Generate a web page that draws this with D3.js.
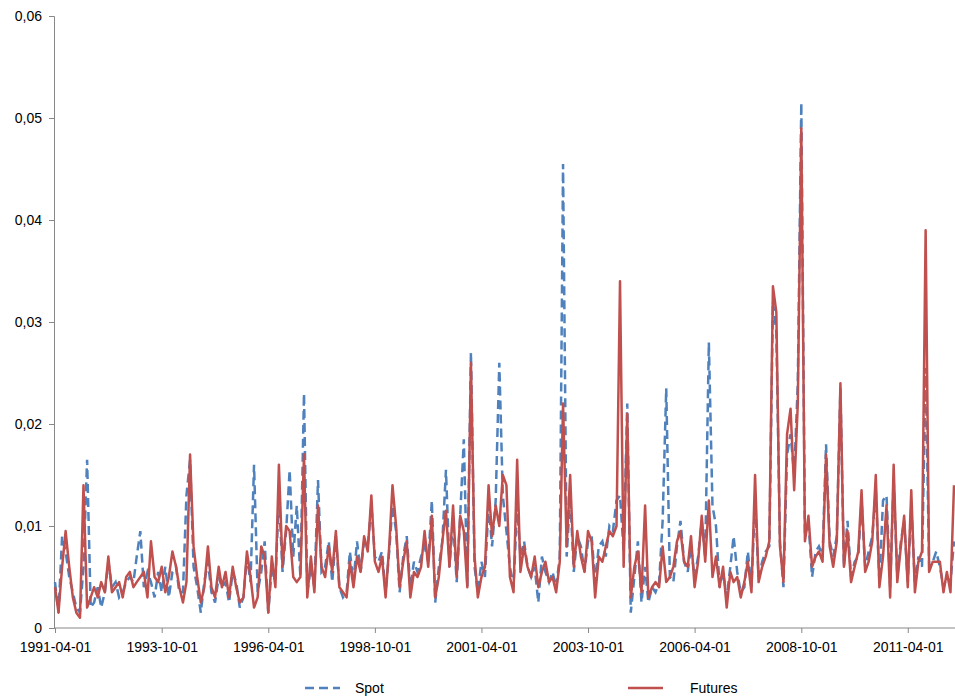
<!DOCTYPE html>
<html>
<head>
<meta charset="utf-8">
<title>Spot vs Futures</title>
<script src="https://cdn.jsdelivr.net/npm/d3@7"></script>
<style>
	body { margin:0; background:#fff; }
	text { font-family:"Liberation Sans Narrow","Liberation Sans",Arial,sans-serif; font-size:14px; fill:#000; }
</style>
</head>
<body>
<svg id="chart" width="955" height="698"></svg>
<script>
// monthly values starting 1991-04-01
var futures = [
	0.004,0.0015,0.006,0.0095,0.006,0.003,0.0015,0.001,0.014,
	0.002,0.003,0.004,0.003,0.0045,0.0035,0.007,0.0035,0.004,0.0045,0.003,0.005,
	0.0055,0.004,0.0045,0.005,0.0055,0.003,0.0085,0.005,0.0045,0.006,0.0035,0.005,
	0.0075,0.006,0.004,0.0025,0.0045,0.017,0.008,0.005,0.0025,0.004,0.008,0.004,
	0.003,0.006,0.004,0.0055,0.003,0.006,0.004,0.0025,0.003,0.0075,0.005,0.002,
	0.003,0.008,0.007,0.0015,0.007,0.004,0.016,0.006,0.01,0.0095,0.005,0.0045,
	0.005,0.017,0.003,0.007,0.0035,0.012,0.006,0.005,0.008,0.0055,0.0095,0.004,
	0.0035,0.003,0.0065,0.004,0.007,0.0055,0.009,0.0075,0.013,0.0065,0.0055,0.007,
	0.003,0.008,0.014,0.01,0.004,0.0065,0.0085,0.003,0.0055,0.005,0.006,0.0095,
	0.006,0.011,0.003,0.005,0.0085,0.0115,0.006,0.012,0.005,0.011,0.0095,0.004,
	0.026,0.007,0.003,0.005,0.006,0.014,0.009,0.012,0.01,0.015,0.014,0.005,
	0.0035,0.0165,0.0055,0.008,0.006,0.005,0.007,0.004,0.0055,0.0065,0.0045,0.005,
	0.0035,0.0065,0.022,0.008,0.015,0.006,0.0095,0.007,0.0055,0.0095,0.0085,0.003,
	0.007,0.0065,0.008,0.0095,0.009,0.01,0.034,0.006,0.021,0.003,0.006,0.0075,
	0.0035,0.012,0.003,0.004,0.0045,0.004,0.008,0.0045,0.005,0.006,0.0085,0.0095,
	0.0065,0.006,0.009,0.004,0.0065,0.011,0.0065,0.0125,0.005,0.007,0.004,0.006,
	0.002,0.0055,0.0045,0.005,0.003,0.0045,0.0065,0.0035,0.015,0.0045,0.006,0.007,
	0.0085,0.0335,0.031,0.008,0.0045,0.019,0.0215,0.0135,0.022,0.049,0.0085,0.011,
	0.006,0.007,0.0075,0.0065,0.017,0.008,0.006,0.0085,0.024,0.006,0.0095,0.0045,
	0.006,0.0075,0.0135,0.0055,0.0065,0.0085,0.015,0.004,0.007,0.012,0.003,0.016,
	0.0045,0.008,0.011,0.004,0.0135,0.0035,0.0065,0.0075,0.039,0.0055,0.0065,0.0065,
	0.0065,0.0035,0.0055,0.0035,0.014
];
var spot = [
	0.0045,0.0015,0.009,0.0075,0.005,0.0035,0.002,0.0015,0.006,
	0.0165,0.002,0.0025,0.004,0.002,0.0035,0.0065,0.004,0.0045,0.003,0.0035,0.0045,
	0.005,0.0045,0.007,0.0095,0.004,0.0055,0.0045,0.003,0.0055,0.0035,0.006,0.003,
	0.0055,0.006,0.0035,0.0035,0.013,0.0165,0.006,0.004,0.0015,0.0045,0.0065,0.0035,
	0.0025,0.005,0.004,0.0045,0.0025,0.0055,0.0045,0.002,0.003,0.007,0.0045,0.016,
	0.0035,0.0055,0.0085,0.0015,0.006,0.0045,0.013,0.0055,0.0095,0.0155,0.007,0.012,
	0.005,0.023,0.0035,0.006,0.004,0.0145,0.0055,0.006,0.0085,0.0045,0.009,0.004,
	0.003,0.0035,0.0075,0.0045,0.0085,0.0055,0.0085,0.008,0.012,0.007,0.0065,0.0075,
	0.0035,0.0075,0.012,0.0095,0.0035,0.007,0.009,0.004,0.0065,0.0055,0.007,0.008,
	0.0065,0.0125,0.0025,0.006,0.0085,0.0155,0.006,0.0105,0.0045,0.011,0.0185,0.004,
	0.027,0.006,0.0035,0.0065,0.005,0.012,0.008,0.0125,0.026,0.013,0.0095,0.006,
	0.004,0.012,0.007,0.0085,0.006,0.005,0.006,0.0025,0.007,0.0055,0.0045,0.0055,
	0.004,0.007,0.0455,0.007,0.013,0.0055,0.009,0.008,0.0055,0.0085,0.009,0.0045,
	0.008,0.0085,0.007,0.01,0.0095,0.0125,0.013,0.0075,0.022,0.0015,0.005,0.0085,
	0.0025,0.006,0.0025,0.004,0.0035,0.0045,0.0105,0.0235,0.005,0.0045,0.008,0.0105,
	0.0065,0.0055,0.008,0.005,0.007,0.0105,0.007,0.028,0.012,0.01,0.004,0.0055,
	0.003,0.006,0.009,0.0055,0.0035,0.004,0.0075,0.004,0.0125,0.005,0.0065,0.0075,
	0.008,0.032,0.029,0.0085,0.004,0.017,0.019,0.015,0.024,0.0515,0.009,0.0105,
	0.005,0.0075,0.008,0.007,0.018,0.0085,0.007,0.009,0.0235,0.006,0.0105,0.005,
	0.0065,0.007,0.0125,0.006,0.0075,0.009,0.0135,0.0045,0.0125,0.013,0.004,0.0145,
	0.005,0.0085,0.0105,0.0045,0.012,0.0045,0.007,0.006,0.0255,0.006,0.0065,0.0075,
	0.006,0.004,0.005,0.0045,0.0085
];
var yTicks = [0, 0.01, 0.02, 0.03, 0.04, 0.05, 0.06];
var xTickLabels = ["1991-04-01","1993-10-01","1996-04-01","1998-10-01","2001-04-01","2003-10-01","2006-04-01","2008-10-01","2011-04-01"];

var start = new Date(1991, 3, 1);
var dates = futures.map(function(d, i) { return d3.timeMonth.offset(start, i); });

var svg = d3.select("#chart");
var x = d3.scaleTime().domain([start, d3.timeMonth.offset(start, 253)]).range([55, 954]);
var y = d3.scaleLinear().domain([0, 0.06]).range([628, 16]);

var fmt = function(d) { return d === 0 ? "0" : d3.format(".2f")(d).replace(".", ","); };

svg.append("g").attr("transform", "translate(54,0)")
	.call(d3.axisLeft(y).tickValues(yTicks).tickFormat(fmt).tickSize(5))
	.call(function(g) { g.selectAll("text").attr("x", -12); });

var parse = d3.timeParse("%Y-%m-%d");
svg.append("g").attr("transform", "translate(0,628)")
	.call(d3.axisBottom(x).tickValues(xTickLabels.map(parse)).tickFormat(d3.timeFormat("%Y-%m-%d")).tickSize(5))
	.call(function(g) { g.selectAll("text").attr("y", 14); g.select(".domain").attr("d", "M54,0H955"); });

svg.selectAll(".domain, .tick line").attr("stroke", "#888");

var line = d3.line().x(function(d, i) { return x(dates[i]); }).y(function(d) { return y(d); });

svg.append("path").datum(spot).attr("d", line).attr("fill", "none")
	.attr("stroke", "#4F81BD").attr("stroke-width", 2.5).attr("stroke-dasharray", "9,5");
svg.append("path").datum(futures).attr("d", line).attr("fill", "none")
	.attr("stroke", "#C0504D").attr("stroke-width", 2.5).attr("stroke-linejoin", "round");

// legend
var legend = [["Spot", "#4F81BD", "9,5", 305, 50], ["Futures", "#C0504D", null, 628, 62]];
legend.forEach(function(l) {
	svg.append("line").attr("x1", l[3]).attr("x2", l[3] + 35).attr("y1", 688).attr("y2", 688)
		.attr("stroke", l[1]).attr("stroke-width", 2.5).attr("stroke-dasharray", l[2]);
	svg.append("text").attr("x", l[3] + l[4]).attr("y", 693).text(l[0]);
});
</script>
</body>
</html>
